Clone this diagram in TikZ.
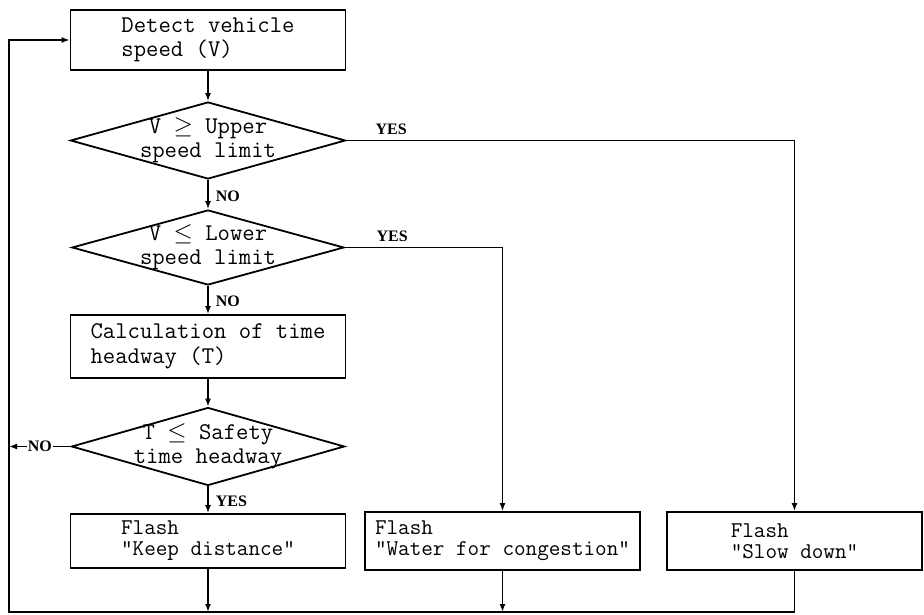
\documentclass[tikz,border=0pt]{standalone}
\usepackage{fontspec}
\setmainfont{Liberation Serif}
\usetikzlibrary{shapes.geometric,arrows.meta}
\begin{document}
\begin{tikzpicture}[x=1pt,y=-1pt,
  line width=1.8pt,
  arr/.style={-{Latex[length=8pt,width=6pt]}},
  box/.style={draw, rectangle, inner sep=0pt, align=left},
  dia/.style={draw, diamond, inner sep=0pt},
  big/.style={font=\ttfamily\fontsize{24}{24.5}\selectfont},
  small/.style={font=\ttfamily\fontsize{22.5}{21}\selectfont},
  lbl/.style={font=\bfseries\fontsize{16}{16}\selectfont, inner sep=1pt}]
\useasboundingbox (0,0) rectangle (924,615);

\node[box, big, minimum width=275pt, minimum height=60pt] (b1) at (208,40) {Detect vehicle\\speed (V)};
\node[dia, minimum width=275pt, minimum height=77pt] (d1) at (208,140.5) {};
\node[big, align=center, inner sep=0pt] (t1) at (d1.center) {V $\geq$ Upper\\speed limit};
\node[dia, minimum width=272pt, minimum height=75pt] (d2) at (208,247.5) {};
\node[big, align=center, inner sep=0pt] (t2) at (d2.center) {V $\leq$ Lower\\speed limit};
\node[box, big, minimum width=275pt, minimum height=63pt] (b3) at (208,346.5) {Calculation of time\\headway (T)};
\node[dia, minimum width=273pt, minimum height=78pt] (d3) at (208,446.5) {};
\node[big, align=center, inner sep=0pt] (t3) at (d3.center) {T $\leq$ Safety\\time headway};
\node[box, small, minimum width=275pt, minimum height=54pt] (k) at (208,541) {Flash\\"Keep distance"};
\node[box, small, minimum width=275pt, minimum height=58pt] (w) at (502.5,541) {Flash\\"Water for congestion"};
\node[box, small, minimum width=255pt, minimum height=58pt] (s) at (794.5,541) {Flash\\"Slow down"};

\coordinate (bl) at (9,612);

\draw[arr] (b1.south) -- (d1.north);
\draw[arr] (d1.south) -- node[lbl, right=6pt, pos=0.55]{NO} (d2.north);
\draw[arr] (d2.south) -- node[lbl, right=6pt, pos=0.55]{NO} (b3.north);
\draw[arr] (b3.south) -- (d3.north);
\draw[arr] (d3.south) -- node[lbl, right=6pt, pos=0.55]{YES} (k.north);
\draw[arr] (d1.east) -- node[lbl, above=4pt, pos=0.1]{YES} (d1.east -| s.north) -- (s.north);
\draw[arr] (d2.east) -- node[lbl, above=4pt, pos=0.3]{YES} (d2.east -| w.north) -- (w.north);
\draw[arr] (d3.west) -- node[lbl, fill=white, pos=0.5]{NO} (d3.west -| bl);
\draw[arr] (k.south) -- (k.south |- bl);
\draw[arr] (w.south) -- (w.south |- bl);
\draw[arr] (s.south) -- (s.south |- bl) -- (bl) -- (bl |- b1.west) -- (b1.west);
\end{tikzpicture}
\end{document}
